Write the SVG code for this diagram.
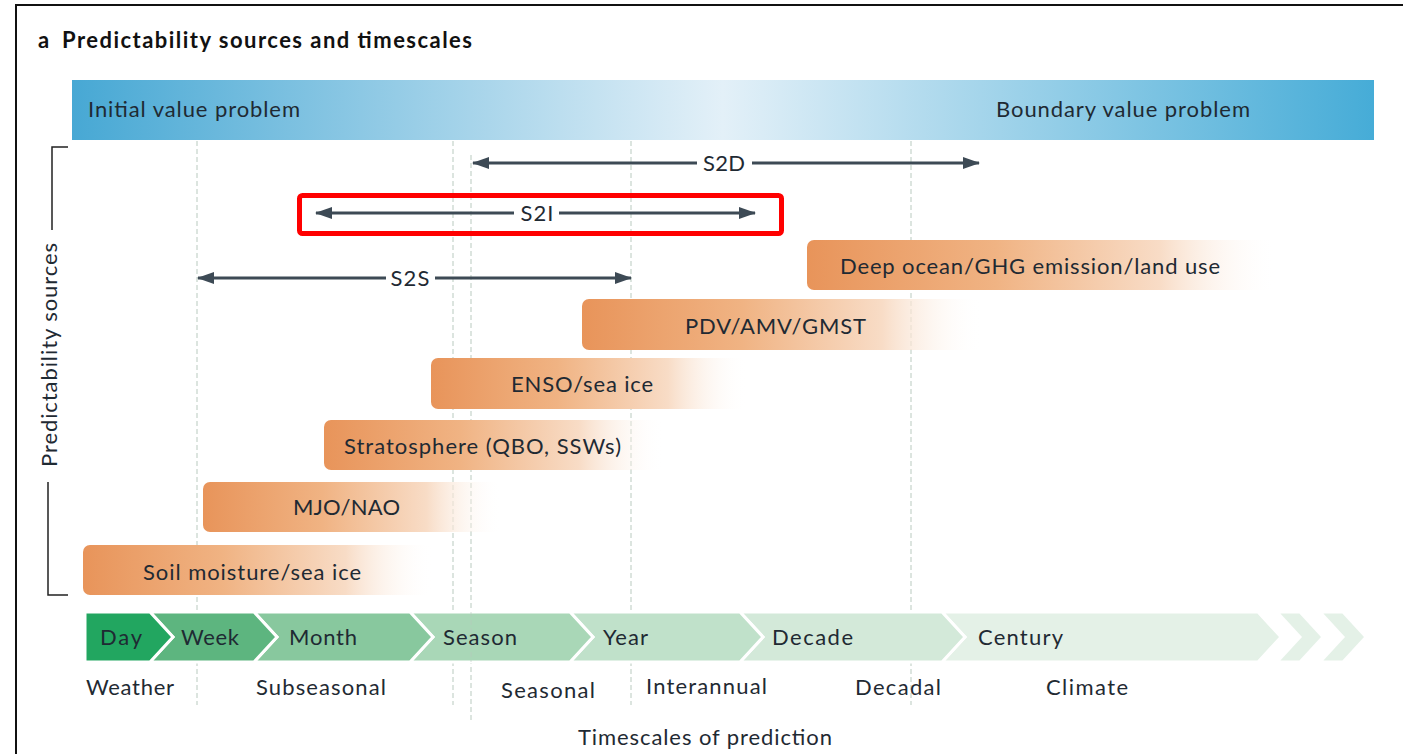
<svg xmlns="http://www.w3.org/2000/svg" width="1403" height="754" viewBox="0 0 1403 754">
<style>
.t{font-family:Lato,"Open Sans","Liberation Sans",sans-serif;fill:#1f2a33;font-size:22px}
.b{font-weight:bold;font-size:22px;fill:#111}
.grid{stroke:#b9cabf;stroke-width:1;stroke-dasharray:5 3;fill:none}
.arr{stroke:#3d4a55;stroke-width:3;fill:none}
.as{marker-start:url(#ah)}
.ae{marker-end:url(#ah)}
.bar{fill:url(#og)}
.chev{stroke:#fff;stroke-width:3;stroke-linejoin:miter}
.brk{stroke:#222;stroke-width:1.5;fill:none}
</style>
<defs>
<linearGradient id="bg" x1="0" y1="0" x2="1" y2="0">
<stop offset="0" stop-color="#47a8d4"/>
<stop offset="0.5" stop-color="#e3f0f8"/>
<stop offset="1" stop-color="#46acd7"/>
</linearGradient>
<linearGradient id="og" x1="0" y1="0" x2="1" y2="0">
<stop offset="0" stop-color="#e8945a"/>
<stop offset="0.4" stop-color="#f0b383"/>
<stop offset="0.75" stop-color="#f8dcc6"/>
<stop offset="1" stop-color="#ffffff" stop-opacity="0"/>
</linearGradient>
<marker id="ah" markerWidth="17" markerHeight="12" refX="16" refY="6" orient="auto-start-reverse" markerUnits="userSpaceOnUse">
<path d="M0,0 L17,6 L0,12 Z" fill="#3d4a55"/>
</marker>
</defs>
<rect width="1403" height="754" fill="#fff"/>
<path d="M16,754 V5 H1403" fill="none" stroke="#111" stroke-width="2"/>
<g id="title">
<text class="t b" x="38" y="48">a</text>
<text class="t b" x="62" y="48" textLength="410">Predictability sources and timescales</text>
</g>
<g id="problem-bar">
<rect x="72" y="80" width="1302" height="60" fill="url(#bg)"/>
<text class="t" x="88" y="117" textLength="212">Initial value problem</text>
<text class="t" x="996" y="117" textLength="254">Boundary value problem</text>
</g>
<g id="gridlines">
<line class="grid" x1="197" y1="141" x2="197" y2="705"/>
<line class="grid" x1="453" y1="141" x2="453" y2="705"/>
<line class="grid" x1="471" y1="155" x2="471" y2="723"/>
<line class="grid" x1="631" y1="141" x2="631" y2="705"/>
<line class="grid" x1="911" y1="141" x2="911" y2="705"/>
</g>
<g id="bracket">
<path class="brk" d="M68,147 H52 V230"/>
<path class="brk" d="M48,482 V595 H68"/>
<text class="t" transform="translate(57,355) rotate(-90)" text-anchor="middle" textLength="224">Predictability sources</text>
</g>
<g id="connectors">
<line class="arr as" x1="473" y1="163" x2="697" y2="163"/>
<line class="arr ae" x1="752" y1="163" x2="979" y2="163"/>
<line class="arr as" x1="316" y1="213" x2="514" y2="213"/>
<line class="arr ae" x1="559" y1="213" x2="755" y2="213"/>
<line class="arr as" x1="198" y1="278" x2="386" y2="278"/>
<line class="arr ae" x1="435" y1="278" x2="631" y2="278"/>
</g>
<g id="s2d"><text class="t" x="724" y="171" text-anchor="middle" textLength="42">S2D</text></g>
<g id="s2i">
<rect x="299.5" y="195.5" width="482" height="38" rx="3" fill="none" stroke="#ff0000" stroke-width="5"/>
<text class="t" x="537" y="221" text-anchor="middle" textLength="33">S2I</text>
</g>
<g id="s2s"><text class="t" x="410" y="286" text-anchor="middle" textLength="39">S2S</text></g>
<g id="deep-ocean">
<rect class="bar" x="807" y="240" width="470" height="50" rx="7"/>
<text class="t" x="840" y="274" textLength="380">Deep ocean/GHG emission/land use</text>
</g>
<g id="pdv">
<rect class="bar" x="582" y="299" width="400" height="51" rx="7"/>
<text class="t" x="685" y="334" textLength="181">PDV/AMV/GMST</text>
</g>
<g id="enso">
<rect class="bar" x="431" y="358" width="316" height="51" rx="7"/>
<text class="t" x="511" y="392" textLength="142">ENSO/sea ice</text>
</g>
<g id="stratosphere">
<rect class="bar" x="324" y="420" width="340" height="50" rx="7"/>
<text class="t" x="344" y="454" textLength="277">Stratosphere (QBO, SSWs)</text>
</g>
<g id="mjo">
<rect class="bar" x="203" y="482" width="298" height="50" rx="7"/>
<text class="t" x="293" y="515" textLength="107">MJO/NAO</text>
</g>
<g id="soil">
<rect class="bar" x="83" y="545" width="350" height="50" rx="7"/>
<text class="t" x="143" y="580" textLength="218">Soil moisture/sea ice</text>
</g>
<g id="timescale-band">
<polygon class="chev" fill="#e4f1e7" points="1277,612 1300,612 1323,637 1300,662 1277,662 1300,637"/>
<polygon class="chev" fill="#e4f1e7" points="1320,612 1343,612 1366,637 1343,662 1320,662 1343,637"/>
<polygon class="chev" fill="#e4f1e7" points="942,612 1258,612 1281,637 1258,662 942,662 965,637"/>
<polygon class="chev" fill="#d3e9d9" points="740,612 942,612 965,637 942,662 740,662 763,637"/>
<polygon class="chev" fill="#c0e1ca" points="570,612 740,612 763,637 740,662 570,662 593,637"/>
<polygon class="chev" fill="#a9d7b7" points="410,612 570,612 593,637 570,662 410,662 433,637"/>
<polygon class="chev" fill="#88c89e" points="254,612 410,612 433,637 410,662 254,662 277,637"/>
<polygon class="chev" fill="#5db57f" points="150,612 254,612 277,637 254,662 150,662 173,637"/>
<polygon fill="#22a660" stroke="#fff" stroke-width="3" points="85,612 150,612 173,637 150,662 85,662"/>
</g>
<line class="grid" x1="471" y1="612" x2="471" y2="662" stroke-opacity="0.6"/>
<g id="day"><text class="t" x="100" y="645" textLength="42">Day</text></g>
<g id="week"><text class="t" x="181" y="645" textLength="58">Week</text></g>
<g id="month"><text class="t" x="289" y="645" textLength="68">Month</text></g>
<g id="season"><text class="t" x="443" y="645" textLength="74">Season</text></g>
<g id="year"><text class="t" x="603" y="645" textLength="45">Year</text></g>
<g id="decade"><text class="t" x="772" y="645" textLength="81">Decade</text></g>
<g id="century"><text class="t" x="978" y="645" textLength="85">Century</text></g>
<g id="categories">
<text class="t" x="86" y="695" textLength="88">Weather</text>
<text class="t" x="256" y="695" textLength="130">Subseasonal</text>
<text class="t" x="501" y="698" textLength="94">Seasonal</text>
<text class="t" x="646" y="694" textLength="121">Interannual</text>
<text class="t" x="855" y="695" textLength="86">Decadal</text>
<text class="t" x="1046" y="695" textLength="82">Climate</text>
<text class="t" x="578" y="745" textLength="254">Timescales of prediction</text>
</g>
</svg>
